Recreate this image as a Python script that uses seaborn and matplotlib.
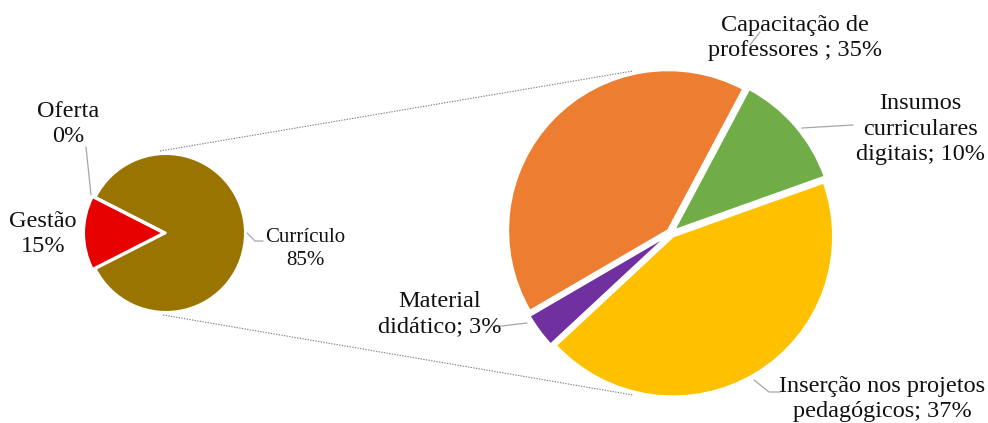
import matplotlib
matplotlib.use("Agg")
import matplotlib.pyplot as plt
import seaborn as sns

# ---- data ----
left_labels = ["Currículo", "Gestão", "Oferta"]
left_values = [85, 15, 0]
left_colors = ["#9A7400", "#E60000", "#4472C4"]

right_labels = ["Insumos\ncurriculares\ndigitais", "Inserção nos projetos\npedagógicos",
                "Material\ndidático", "Capacitação de\nprofessores "]
right_values = [10, 37, 3, 35]
right_colors = ["#70AD47", "#FFC000", "#7030A0", "#ED7D31"]

sns.set_theme(style="white")
plt.rcParams['font.family'] = ['Liberation Serif', 'DejaVu Serif']

W, H = 988, 423
fig = plt.figure(figsize=(W / 100, H / 100), dpi=100)
ax = fig.add_axes([0, 0, 1, 1])

def Y(y):
    return H - y

# left pie (explode given in pixels = data units here)
ax.pie(left_values, colors=left_colors, startangle=153, counterclock=False,
       center=(166, Y(233)), radius=79, explode=[0, 3, 0],
       wedgeprops=dict(edgecolor="white", linewidth=1.5), normalize=True)

# right pie
ax.pie(right_values, colors=right_colors, startangle=62, counterclock=False,
       center=(671, Y(233)), radius=160, explode=[4] * 4,
       wedgeprops=dict(edgecolor="white", linewidth=1.5), normalize=True)

# connector dotted lines
ax.plot([160, 633], [Y(151), Y(71)], color="#7F7F7F", lw=0.8, ls=(0, (1.2, 1.2)))
ax.plot([163, 633], [Y(315), Y(395)], color="#7F7F7F", lw=0.8, ls=(0, (1.2, 1.2)))

lc = "#A6A6A6"
fs = 17.5
ls_ = 1.3
# left labels
lpos = {"Currículo": (305, 249), "Gestão": (43, 234), "Oferta": (68, 124)}
for lab, val in zip(left_labels, left_values):
    x, y = lpos[lab]
    ax.text(x, Y(y), f"{lab}\n{val}%", ha="center", va="center",
            fontsize=15 if lab == "Currículo" else fs, linespacing=ls_, color="#111111")
ax.plot([86, 91], [Y(147), Y(195)], color=lc, lw=0.9)
ax.plot([247, 255, 263], [Y(233), Y(241), Y(241)], color=lc, lw=0.9)

# right labels
rpos = [(920, 129), (882, 399), (440, 314), (795, 38)]
for (x, y), lab, val in zip(rpos, right_labels, right_values):
    ax.text(x, Y(y), f"{lab}; {val}%", ha="center", va="center", fontsize=fs,
            linespacing=ls_, color="#111111")
ax.plot([802, 853], [Y(128), Y(125)], color=lc, lw=0.9)
ax.plot([750, 760], [Y(45), Y(32)], color=lc, lw=0.9)
ax.plot([493, 527], [Y(327), Y(323)], color=lc, lw=0.9)
ax.plot([754, 769, 780], [Y(380), Y(392), Y(392)], color=lc, lw=0.9)

ax.set_xlim(0, W)
ax.set_ylim(0, H)
ax.set_aspect("auto")
ax.axis("off")
fig.savefig("out.png", dpi=100, facecolor="white")
